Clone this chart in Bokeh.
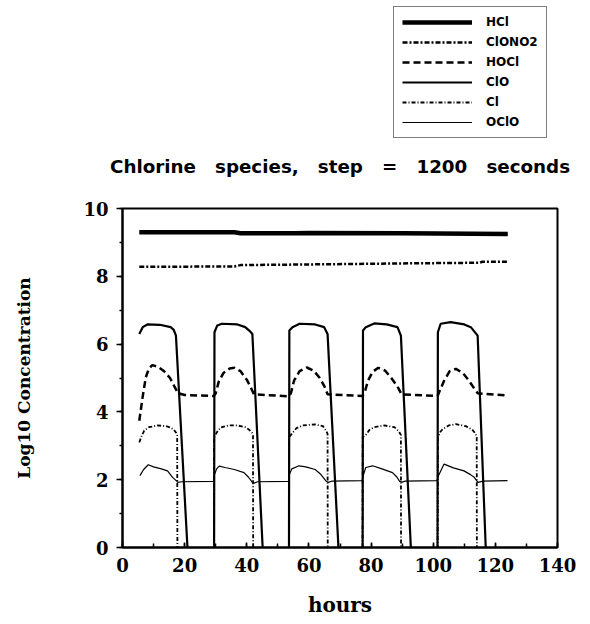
from bokeh.plotting import figure
from bokeh.layouts import column
from bokeh.models import Range1d, Legend, LegendItem, SingleIntervalTicker, Title
from bokeh.embed import file_html
from bokeh.resources import INLINE

# ---- data (hours, log10 concentration) ----
hcl_t = [5.4, 36, 38, 55, 60, 90, 124]
hcl_v = [9.30, 9.30, 9.27, 9.27, 9.28, 9.27, 9.25]

clono2_t = [5.4, 36, 38, 60, 90, 115, 115.8, 124]
clono2_v = [8.28, 8.29, 8.33, 8.35, 8.38, 8.40, 8.43, 8.43]

hocl_t = [5.4, 6.5, 7.5, 8.5, 9.6, 11.5, 13.4, 15.3, 16.6, 17.9, 20, 29.4,
          30.0, 31.0, 32.5, 34.5, 36, 38, 40, 41.3, 42.3, 53.5,
          54.2, 55.2, 57, 59.3, 61.5, 63.5, 65, 66.0, 77.2,
          77.9, 79, 80.5, 82.3, 84.5, 86.5, 88.5, 89.8, 101.4,
          101.9, 103.5, 105.3, 107.3, 109.5, 111.5, 112.6, 114.3, 124.0]
hocl_v = [3.74, 4.45, 5.02, 5.28, 5.38, 5.33, 5.20, 5.00, 4.77, 4.55, 4.50, 4.47,
          4.55, 4.90, 5.15, 5.28, 5.30, 5.20, 4.95, 4.72, 4.52, 4.46,
          4.55, 4.92, 5.20, 5.31, 5.22, 5.00, 4.75, 4.52, 4.47,
          4.56, 4.92, 5.18, 5.30, 5.22, 5.00, 4.75, 4.52, 4.47,
          4.58, 4.92, 5.20, 5.27, 5.15, 4.92, 4.77, 4.55, 4.48]

clo_t = [5.4, 6.5, 8.0, 12.0, 15.5, 16.5, 17.2, 21.5, 29.3,
         29.6, 30.5, 32.0, 37.0, 39.5, 40.8, 41.8, 45.6, 53.4,
         53.7, 54.7, 57.0, 62.0, 64.9, 66.0, 70.0, 77.1,
         77.4, 78.3, 81.0, 85.0, 88.5, 89.6, 93.3, 101.2,
         101.5, 102.4, 105.6, 110.0, 112.1, 114.3, 117.4, 124.0]
clo_v = [6.30, 6.50, 6.58, 6.57, 6.50, 6.42, 6.25, -1.0, -10,
         6.35, 6.55, 6.60, 6.58, 6.50, 6.40, 6.30, -0.95, -10,
         6.40, 6.50, 6.60, 6.58, 6.50, 6.30, -0.9, -10,
         6.40, 6.50, 6.61, 6.58, 6.50, 6.25, -0.98, -10,
         6.35, 6.60, 6.65, 6.58, 6.50, 6.25, -1.2, -10]

cl_t = [5.4, 6.2, 7.0, 8.5, 11.3, 14.0, 15.5, 16.5, 17.3, 17.6, 17.9, 29.2,
        29.5, 30.5, 31.6, 34.0, 37.0, 39.5, 40.8, 41.7, 42.0, 42.2, 53.4,
        53.6, 54.7, 56.0, 58.0, 62.0, 64.5, 65.5, 66.0, 66.2, 77.1,
        77.3, 78.3, 79.5, 81.0, 84.2, 87.5, 89.0, 89.6, 89.8, 101.2,
        101.5, 102.2, 103.0, 105.0, 107.3, 110.5, 112.5, 113.7, 114.0, 114.2, 124.0]
cl_v = [3.10, 3.30, 3.45, 3.55, 3.60, 3.58, 3.54, 3.48, 3.38, 3.30, -10, -10,
        3.25, 3.42, 3.54, 3.60, 3.60, 3.55, 3.47, 3.38, 3.30, -10, -10,
        3.25, 3.38, 3.52, 3.60, 3.63, 3.58, 3.45, 3.35, -10, -10,
        3.25, 3.32, 3.47, 3.55, 3.60, 3.55, 3.42, 3.32, -10, -10,
        3.25, 3.40, 3.49, 3.60, 3.64, 3.58, 3.48, 3.35, 3.25, -10, -10]

oclo_t = [5.6, 6.8, 8.3, 10.0, 12.5, 14.5, 16.1, 17.2, 17.8, 19.0, 29.3,
          29.6, 30.3, 31.1, 33.0, 36.0, 39.1, 40.5, 41.8, 42.3, 43.5, 53.4,
          53.7, 54.5, 56.8, 59.0, 62.0, 63.8, 65.4, 66.2, 67.5, 77.1,
          77.4, 78.3, 80.5, 83.5, 86.9, 88.3, 89.2, 90.0, 91.0, 101.2,
          101.6, 103.5, 106.5, 109.9, 112.0, 113.2, 114.4, 116.0, 123.9]
oclo_v = [2.12, 2.30, 2.44, 2.38, 2.32, 2.26, 2.07, 1.98, 1.92, 1.94, 1.95,
          2.15, 2.32, 2.40, 2.36, 2.30, 2.21, 2.08, 1.92, 1.90, 1.94, 1.95,
          2.15, 2.32, 2.41, 2.38, 2.30, 2.16, 1.97, 1.92, 1.96, 1.97,
          2.10, 2.36, 2.41, 2.32, 2.21, 2.08, 1.95, 1.93, 1.96, 1.97,
          2.10, 2.46, 2.35, 2.26, 2.15, 2.07, 1.92, 1.96, 1.97]

species = ["HCl", "ClONO2", "HOCl", "ClO", "Cl", "OClO"]
series_t = [hcl_t, clono2_t, hocl_t, clo_t, cl_t, oclo_t]
series_v = [hcl_v, clono2_v, hocl_v, clo_v, cl_v, oclo_v]

styles = [dict(line_width=4.5),
          dict(line_width=2.5, line_dash="5 2 2 2"),
          dict(line_width=2.5, line_dash="7 4"),
          dict(line_width=2.2),
          dict(line_width=1.8, line_dash="4 2 1 2"),
          dict(line_width=1.2)]

title_text = "Chlorine\u00a0\u00a0 species,\u00a0\u00a0 step\u00a0\u00a0 =\u00a0\u00a0 1200\u00a0\u00a0 seconds"

TOP_H = 195
FRAME_L = 122

# ---- top strip: legend + title (series drawn out of view so only the legend shows) ----
pl = figure(width=590, height=TOP_H, output_backend="svg", toolbar_location=None,
            x_range=Range1d(1000, 1001), y_range=Range1d(1000, 1001),
            x_axis_type=None, y_axis_type=None, title=None,
            min_border_left=FRAME_L, min_border_right=33, min_border_top=0, min_border_bottom=0)
pl.outline_line_color = None
pl.xgrid.visible = False
pl.ygrid.visible = False
leg_renderers = [pl.line(t, v, line_color="black", **st)
                 for t, v, st in zip(series_t, series_v, styles)]

legend = Legend(items=[LegendItem(label=s, renderers=[r]) for s, r in zip(species, leg_renderers)],
                location=(393 - FRAME_L, 0))
legend.border_line_color = "black"
legend.border_line_width = 1.5
legend.background_fill_color = "white"
legend.background_fill_alpha = 1
legend.label_text_font = "DejaVu Sans"
legend.label_text_font_style = "bold"
legend.label_text_font_size = "12px"
legend.label_text_color = "black"
legend.glyph_width = 70
legend.glyph_height = 14
legend.label_height = 14
legend.spacing = 6
legend.padding = 8
legend.margin = 0
legend.label_standoff = 14
pl.add_layout(legend)

title = Title(text=title_text, text_font="DejaVu Sans", text_font_style="bold",
              text_font_size="18.3px", align="center", vertical_align="top",
              text_color="black", standoff=34, offset=-4)
pl.add_layout(title, "below")

# ---- main chart ----
p = figure(width=590, height=624 - TOP_H, output_backend="svg", toolbar_location=None,
           x_range=Range1d(0, 140), y_range=Range1d(0, 10), title=None,
           min_border_left=FRAME_L, min_border_right=33,
           min_border_top=208 - TOP_H, min_border_bottom=77)

p.background_fill_color = "white"
p.border_fill_color = "white"
p.outline_line_color = "black"
p.outline_line_width = 2
p.xgrid.visible = False
p.ygrid.visible = False

for t, v, st in zip(series_t, series_v, styles):
    p.line(t, v, line_color="black", **st)

for ax in (p.xaxis[0], p.yaxis[0]):
    ax.axis_line_color = "black"
    ax.axis_line_width = 2
    ax.major_tick_line_width = 1.5
    ax.minor_tick_line_width = 1.5
    ax.major_label_text_font = "DejaVu Serif"
    ax.major_label_text_font_style = "bold"
    ax.major_label_text_font_size = "18px"
    ax.major_label_text_color = "black"
    ax.axis_label_text_font = "DejaVu Serif"
    ax.axis_label_text_font_style = "bold"
    ax.axis_label_text_color = "black"

p.xaxis.ticker = SingleIntervalTicker(interval=20, num_minor_ticks=2)
p.yaxis.ticker = SingleIntervalTicker(interval=2, num_minor_ticks=2)

p.xaxis.major_tick_in = 5
p.xaxis.major_tick_out = 0
p.xaxis.minor_tick_in = 4
p.xaxis.minor_tick_out = 0
p.xaxis.major_label_standoff = 10
p.xaxis.axis_label = "hours"
p.xaxis.axis_label_text_font_size = "20px"
p.xaxis.axis_label_standoff = 18

p.yaxis.major_tick_in = 0
p.yaxis.major_tick_out = 6
p.yaxis.minor_tick_in = 0
p.yaxis.minor_tick_out = 3
p.yaxis.major_label_standoff = 8
p.yaxis.axis_label = "Log10 Concentration"
p.yaxis.axis_label_text_font_size = "17px"
p.yaxis.axis_label_standoff = 46

layout = column(pl, p, spacing=0)
open("out.html", "w").write(file_html(layout, INLINE))
